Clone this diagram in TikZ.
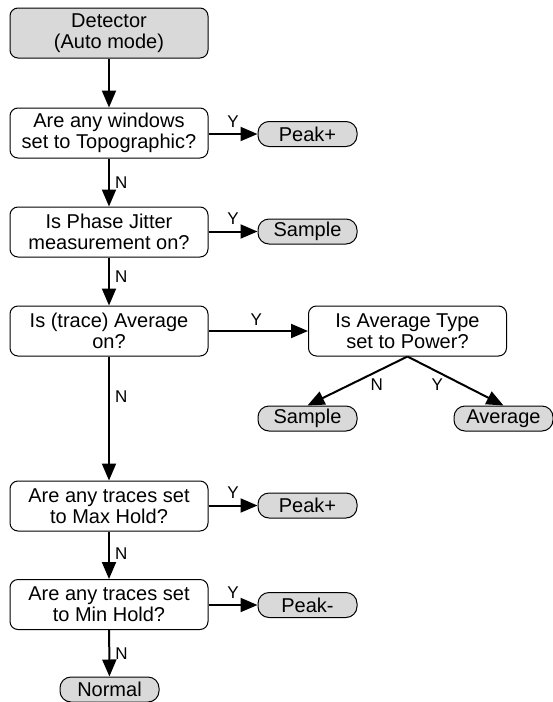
\documentclass[tikz,border=0pt]{standalone}
\usepackage{fontspec}
\setmainfont{Liberation Sans}
\usetikzlibrary{arrows.meta}
\definecolor{boxgray}{RGB}{217,217,217}
\begin{document}
\begin{tikzpicture}[x=1pt,y=-1pt,
  askbox/.style={draw,line width=1pt,rounded corners=8pt,minimum width=198pt,minimum height=50pt,inner sep=0pt,align=center,font=\fontsize{20}{21}\selectfont},
  endbox/.style={draw,fill=boxgray,line width=1pt,rounded corners=11pt,minimum width=99pt,minimum height=25pt,inner sep=0pt,font=\fontsize{20}{21}\selectfont},
  flow/.style={line width=2pt,-{Triangle[length=17pt,width=14pt]}},
  yn/.style={inner sep=0pt,font=\fontsize{17}{18}\selectfont}]
\path[use as bounding box] (0,0) rectangle (553,702);
\node[askbox,fill=boxgray] (det) at (109,33) {Detector\\(Auto mode)};
\node[askbox] (topo) at (109,133) {Are any windows\\set to Topographic?};
\node[endbox] (peakA) at (307.5,134) {Peak+};
\node[askbox] (jitter) at (109,232) {Is Phase Jitter\\measurement on?};
\node[endbox] (sampleA) at (307.5,231.5) {Sample};
\node[askbox] (avgon) at (109,331) {Is (trace) Average\\on?};
\node[askbox] (avgtype) at (407.5,331) {Is Average Type\\set to Power?};
\node[endbox] (sampleB) at (307.5,418.5) {Sample};
\node[endbox] (average) at (503.5,418.5) {Average};
\node[askbox] (maxhold) at (109,506) {Are any traces set\\to Max Hold?};
\node[endbox] (peakB) at (307.5,505.5) {Peak+};
\node[askbox] (minhold) at (109,604.5) {Are any traces set\\to Min Hold?};
\node[endbox] (peakC) at (307.5,605) {Peak-};
\node[endbox] (normal) at (109.5,689.5) {Normal};
\draw[flow] (det) -- (topo);
\draw[flow] (topo.east |- peakA) -- node[yn,above=6pt,pos=.5] {Y} (peakA);
\draw[flow] (topo) -- node[yn,right=5pt,pos=.5] {N} (jitter);
\draw[flow] (jitter.east |- sampleA) -- node[yn,above=6pt,pos=.5] {Y} (sampleA);
\draw[flow] (jitter) -- node[yn,right=5pt,pos=.4] {N} (avgon);
\draw[flow] (avgon) -- node[yn,above=5pt,pos=.48] {Y} (avgtype);
\draw[flow] (avgtype.south) -- node[yn,below right=2pt,pos=.4] {N} (sampleB.north);
\draw[flow] (avgtype.south) -- node[yn,below left=2pt,pos=.4] {Y} (average.north);
\draw[flow] (avgon) -- node[yn,right=5pt,pos=.32] {N} (maxhold);
\draw[flow] (maxhold.east |- peakB) -- node[yn,above=6pt,pos=.5] {Y} (peakB);
\draw[flow] (maxhold) -- node[yn,right=5pt,pos=.47] {N} (minhold);
\draw[flow] (minhold.east |- peakC) -- node[yn,above=6pt,pos=.5] {Y} (peakC);
\draw[flow] (minhold) -- node[yn,right=5pt,pos=.5] {N} (normal);
\end{tikzpicture}
\end{document}
